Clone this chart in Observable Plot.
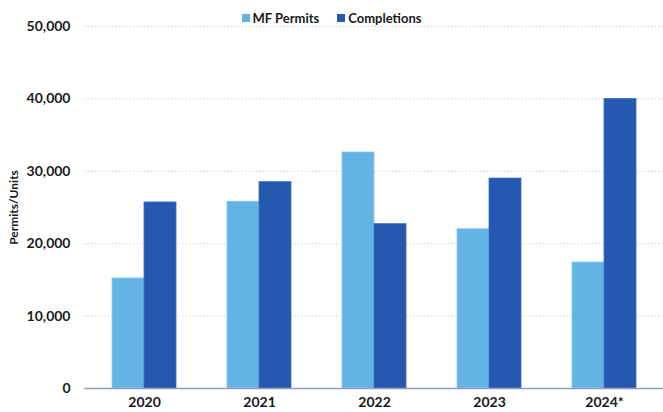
<!DOCTYPE html>
<html>
<head>
<meta charset="utf-8">
<script src="https://cdn.jsdelivr.net/npm/d3@7"></script>
<script src="https://cdn.jsdelivr.net/npm/@observablehq/plot@0.6"></script>
<style>
  html, body { margin: 0; padding: 0; background: #fff; }
  #wrap { position: relative; width: 663px; height: 412px; font-family: Lato, "Open Sans", sans-serif; }
  #legend { position: absolute; z-index: 2; top: 9px; left: 0; width: 663px; display: flex; justify-content: center; gap: 18px; font-size: 13px; font-weight: 700; color: #1a1a1a; line-height: 18px; }
  #legend span.item { display: flex; align-items: center; gap: 3px; }
  #legend span.sw { display: inline-block; width: 8px; height: 8px; }
</style>
</head>
<body>
<div id="wrap">
  <div id="legend"></div>
</div>
<script>
const years = ["2020", "2021", "2022", "2023", "2024*"];
const permits = [15200, 25800, 32600, 22000, 17400];
const completions = [25700, 28500, 22700, 29000, 40000];
const seriesNames = ["MF Permits", "Completions"];
const seriesColors = ["#63B4E4", "#2459AF"];
const yTicks = [0, 10000, 20000, 30000, 40000, 50000];

const permitRows = years.map((y, i) => ({year: y, value: permits[i]}));
const completionRows = years.map((y, i) => ({year: y, value: completions[i]}));

const chart = Plot.plot({
  width: 663,
  height: 412,
  marginTop: 26,
  marginBottom: 24,
  marginLeft: 84,
  marginRight: 0,
  style: {fontFamily: "Lato, 'Open Sans', sans-serif", fontSize: "14px", fontWeight: 700, color: "#1a1a1a", background: "transparent"},
  x: {domain: years, paddingInner: 0.447, paddingOuter: 0.2235, label: null},
  y: {domain: [0, 50000], label: null},
  marks: [
    Plot.ruleY(yTicks.filter(d => d > 0), {stroke: "#d4d4d4", strokeWidth: 1, strokeDasharray: "1.5,2"}),
    Plot.barY(permitRows, {x: "year", y: "value", fill: seriesColors[0], stroke: "#8ccaee", strokeWidth: 0.8, insetRight: 32}),
    Plot.barY(completionRows, {x: "year", y: "value", fill: seriesColors[1], stroke: "#3e6fbd", strokeWidth: 0.8, insetLeft: 32}),
    Plot.ruleY([0], {stroke: "#8f9cc0", strokeWidth: 1.5}),
    Plot.axisY({ticks: yTicks, tickSize: 0, tickPadding: 14, tickFormat: d3.format(","), fontSize: 14, fontWeight: 700, label: null}),
    Plot.text(["Permits/Units"], {frameAnchor: "left", textAnchor: "middle", rotate: -90, dx: -70, fontSize: 12, fontWeight: 700, fill: "#1a1a1a"}),
    Plot.axisX({tickSize: 0, tickPadding: 9, fontSize: 14, fontWeight: 700})
  ]
});
const wrap = document.getElementById("wrap");
chart.style.position = "absolute";
chart.style.top = "0";
chart.style.left = "0";
chart.style.zIndex = "1";
wrap.appendChild(chart);

const legend = document.getElementById("legend");
seriesNames.forEach((name, i) => {
  const item = document.createElement("span");
  item.className = "item";
  const sw = document.createElement("span");
  sw.className = "sw";
  sw.style.background = seriesColors[i];
  item.appendChild(sw);
  item.appendChild(document.createTextNode(name));
  legend.appendChild(item);
});
</script>
</body>
</html>
